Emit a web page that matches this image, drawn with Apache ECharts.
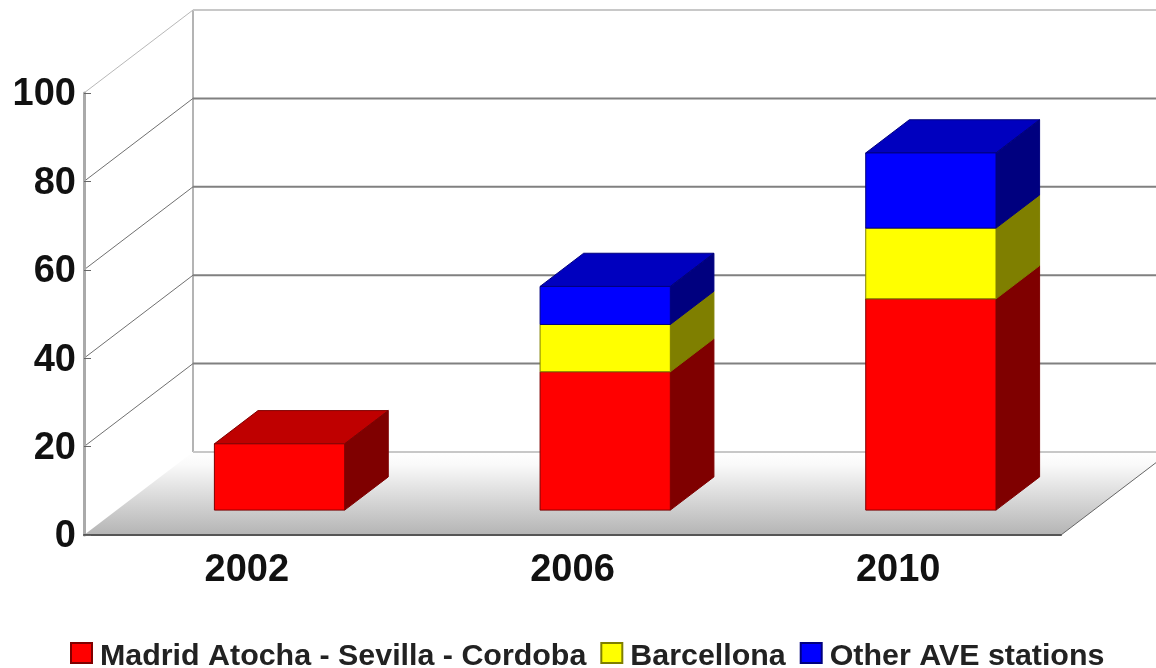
<!DOCTYPE html>
<html><head><meta charset="utf-8">
<style>html,body{margin:0;padding:0;background:#fff}#c{width:1156px;height:668px;filter:blur(0.6px)}</style>
<script src="https://cdn.jsdelivr.net/npm/echarts@6/dist/echarts.min.js"></script>
</head><body><div id="c"></div>
<script>
const categories = ['2002', '2006', '2010'];
const madrid = [15, 31.3, 47.8];
const barcellona = [null, 10.7, 16];
const other = [null, 8.6, 17];
const yTicks = [0, 20, 40, 60, 80, 100];

const DX = 109, DY = 83;          // full depth of the 3D box
const F0 = 0.3, F1 = 0.7;         // bar sits between these depth fractions
const FONT = '"Liberation Sans", Arial, sans-serif';

function poly(points, fill, stroke, w) {
  return { type: 'polygon', shape: { points }, style: { fill, stroke: stroke || fill, lineWidth: w === undefined ? 1 : w } };
}
function line(x1, y1, x2, y2, stroke, w) {
  return { type: 'line', shape: { x1, y1, x2, y2 }, style: { stroke, lineWidth: w } };
}

function renderBox() {
  return function (params, api) {
    const cs = params.coordSys;
    const l = cs.x, r = cs.x + cs.width;
    const y0 = api.coord([0, 0])[1], y100 = api.coord([0, 100])[1];
    return { type: 'group', children: [
      poly([[l, y0], [r, y0], [r + DX, y0 - DY], [l + DX, y0 - DY]], {
        type: 'linear', x: 0, y: 0, x2: 0, y2: 1,
        colorStops: [{ offset: 0, color: '#ffffff' }, { offset: 0.15, color: '#fafafa' }, { offset: 1, color: '#b4b4b4' }]
      }, 'none', 0),
      line(l + DX, y0 - DY, l + DX, y100 - DY, '#b4b4b4', 2),
      line(r, y0, r + DX, y0 - DY, '#666666', 1)
    ] };
  };
}
function renderGrid(params, api) {
  const v = api.value(0);
  const cs = params.coordSys;
  const l = cs.x, r = cs.x + cs.width;
  const y = api.coord([0, v])[1];
  const edge = v === 0 || v === 100;
  const children = [line(l + DX, y - DY, r + DX, y - DY, edge ? '#c8c8c8' : '#808080', 2)];
  if (v !== 0) children.push(line(l, y, l + DX, y - DY, v === 100 ? '#b8b8b8' : '#707070', 1));
  return { type: 'group', children };
}
function segmentRenderer(front, top, side) {
  return function (params, api) {
    const i = api.value(0);
    const a = api.value(1), b = api.value(2);
    const cx = api.coord([i, 0])[0];
    const w = api.size([1, 0])[0] * 0.4;
    const ox = DX * F0, oy = DY * F0, dx = DX * (F1 - F0), dy = DY * (F1 - F0);
    const x1 = cx - w / 2 + ox, x2 = cx + w / 2 + ox;
    const ya = api.coord([i, a])[1] - oy, yb = api.coord([i, b])[1] - oy;
    return { type: 'group', children: [
      poly([[x1, yb], [x2, yb], [x2 + dx, yb - dy], [x1 + dx, yb - dy]], top, side),
      poly([[x2, ya], [x2 + dx, ya - dy], [x2 + dx, yb - dy], [x2, yb]], side, side),
      poly([[x1, ya], [x2, ya], [x2, yb], [x1, yb]], front, side)
    ] };
  };
}
function segments(values, below) {
  const out = [];
  values.forEach((v, i) => {
    if (v === null) return;
    const base = below.reduce((s, arr) => s + (arr[i] || 0), 0);
    out.push([i, base, base + v]);
  });
  return out;
}

const chart = echarts.init(document.getElementById('c'), null, { renderer: 'canvas' });
chart.setOption({
  animation: false,
  backgroundColor: '#ffffff',
  grid: { left: 84, top: 93, width: 977, height: 442, containLabel: false },
  xAxis: {
    type: 'category', data: categories, z: 5,
    axisLine: { lineStyle: { color: '#555555', width: 2 } },
    axisTick: { inside: true, length: 6, lineStyle: { color: '#888888', width: 1 } },
    axisLabel: { margin: 17, fontFamily: FONT, fontWeight: 'bold', fontSize: 38, color: '#111111' }
  },
  yAxis: {
    type: 'value', min: 0, max: 100, interval: 20, z: 5,
    axisLine: { show: true, lineStyle: { color: '#aaaaaa', width: 3 } },
    axisTick: { show: true, inside: true, length: 7, lineStyle: { color: '#666666', width: 1 } },
    axisLabel: { margin: 8, formatter: '{a|{value}}',
      rich: { a: { fontFamily: FONT, fontWeight: 'bold', fontSize: 38, color: '#111111', padding: [4, 0, 0, 0] } } },
    splitLine: { show: false }
  },
  legend: {
    left: 65, top: 637, itemWidth: 21, itemHeight: 20, itemGap: 14,
    formatter: '{t|{name}}',
    data: [
      { name: 'Madrid Atocha - Sevilla - Cordoba', icon: 'rect' },
      { name: 'Barcellona', icon: 'rect' },
      { name: 'Other AVE stations', icon: 'rect' }
    ],
    textStyle: { padding: [0, 0, 0, 3],
      rich: { t: { fontFamily: FONT, fontWeight: 'bold', fontSize: 30.4, color: '#222222', padding: [8, 0, 0, 0] } } }
  },
  series: [
    { name: 'box', type: 'custom', z: 1, silent: true, renderItem: renderBox(), data: [[0]], encode: { x: -1, y: -1 } },
    { name: 'grid', type: 'custom', z: 2, silent: true, renderItem: renderGrid, data: yTicks.map(v => [v]), encode: { x: -1, y: -1 } },
    { name: 'Madrid Atocha - Sevilla - Cordoba', type: 'custom', z: 3,
      itemStyle: { color: '#ff0000', borderColor: '#7f0000', borderWidth: 1 },
      renderItem: segmentRenderer('#ff0000', '#bf0000', '#7f0000'), data: segments(madrid, []), encode: { x: 0, y: 2 } },
    { name: 'Barcellona', type: 'custom', z: 3,
      itemStyle: { color: '#ffff00', borderColor: '#7f7f00', borderWidth: 1 },
      renderItem: segmentRenderer('#ffff00', '#bfbf00', '#7f7f00'), data: segments(barcellona, [madrid]), encode: { x: 0, y: 2 } },
    { name: 'Other AVE stations', type: 'custom', z: 3,
      itemStyle: { color: '#0000ff', borderColor: '#00007f', borderWidth: 1 },
      renderItem: segmentRenderer('#0000ff', '#0000bf', '#00007f'), data: segments(other, [madrid, barcellona]), encode: { x: 0, y: 2 } }
  ]
});
</script></body></html>
